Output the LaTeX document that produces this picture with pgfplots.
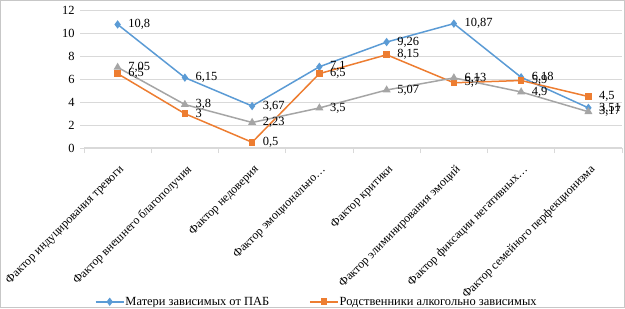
\documentclass[border=0pt]{standalone}
\usepackage{fontspec}
\setmainfont{Liberation Serif}
\usepackage{pgfplots}
\pgfplotsset{compat=1.18}
\definecolor{cblue}{HTML}{5B9BD5}
\definecolor{corange}{HTML}{ED7D31}
\definecolor{cgray}{HTML}{A5A5A5}
\definecolor{cgrid}{HTML}{D9D9D9}
\begin{document}
\begin{tikzpicture}[x=1bp,y=1bp]
\path (0,0) rectangle (625,308);
\begin{axis}[
  at={(84bp,160bp)}, anchor=south west,
  scale only axis, width=538bp, height=137.3bp,
  xmin=0, xmax=8, ymin=0, ymax=12,
  ytick={0,2,...,12},
  xtick={0.5,1.5,...,7.5},
  xticklabels={Фактор индуцирования тревоги, Фактор внешнего благополучия, Фактор недоверия, Фактор эмоционально…, Фактор критики, Фактор элиминирования эмоций, Фактор фиксации негативных…, Фактор семейного перфекционизма},
  minor xtick={0,1,...,8},
  axis x line*=bottom, axis y line*=left,
  y axis line style={draw=none},
  x axis line style={draw=cgrid, line width=0.8bp, -},
  ymajorgrids, grid style={draw=cgrid, line width=1.2bp},
  major x tick style={draw=none},
  minor x tick style={draw=cgrid, line width=0.8bp},
  minor tick length=5bp,
  y tick style={draw=cgrid, line width=0.8bp},
  major tick length=4bp,
  tick align=outside,
  tick label style={font=\fontsize{12.5}{13}\selectfont, text=black},
  yticklabel style={xshift=-2bp},
  xticklabel style={font=\fontsize{12}{13}\selectfont, anchor=north east, xshift=1bp, yshift=-12bp, rotate=45, inner sep=0pt},
  /pgf/number format/assume math mode=true,
  /pgf/number format/use comma,
  nodes near coords,
  every node near coord/.append style={anchor=west, font=\fontsize{12.5}{13}\selectfont, text=black, inner sep=1bp, xshift=9bp},
  clip=false,
  legend style={at={(0.02,-1.12)}, anchor=west, draw=none, fill=none, font=\fontsize{12.5}{13}\selectfont, legend columns=2, nodes={inner sep=1bp}, /tikz/every even column/.append style={column sep=39bp}, inner sep=0pt},
  legend image code/.code={\draw[mark repeat=2,mark phase=2] plot coordinates {(0bp,0bp) (14bp,0bp) (28bp,0bp)};},
]
\addplot[color=cblue, line width=1.5bp, mark=diamond*, mark size=3bp, mark options={solid, fill=cblue}] coordinates {(0.5,10.8) (1.5,6.15) (2.5,3.67) (3.5,7.1) (4.5,9.26) (5.5,10.87) (6.5,6.18) (7.5,3.51)};
\addlegendentry{Матери зависимых от ПАБ}
\addplot[color=corange, line width=1.5bp, mark=square*, mark size=2.6bp, mark options={solid, fill=corange}] coordinates {(0.5,6.5) (1.5,3) (2.5,0.5) (3.5,6.5) (4.5,8.15) (5.5,5.7) (6.5,5.9) (7.5,4.5)};
\addlegendentry{Родственники алкогольно зависимых}
\addplot[color=cgray, line width=1.5bp, mark=triangle*, mark size=3.2bp, mark options={solid, fill=cgray}] coordinates {(0.5,7.05) (1.5,3.8) (2.5,2.23) (3.5,3.5) (4.5,5.07) (5.5,6.13) (6.5,4.9) (7.5,3.17)};
\end{axis}
\draw[cgrid!80!gray, line width=1bp] (0.5,0.5) rectangle (624.5,307.5);
\end{tikzpicture}
\end{document}
